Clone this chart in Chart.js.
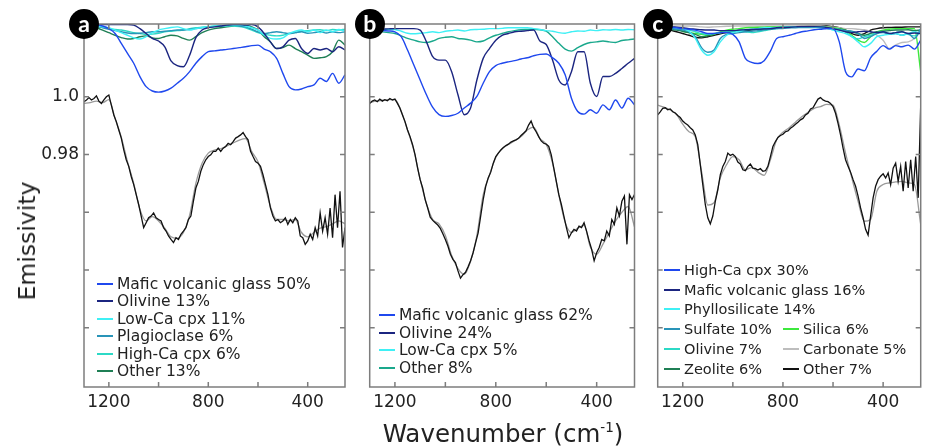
<!DOCTYPE html>
<html>
<head>
<meta charset="utf-8">
<script src="https://cdn.jsdelivr.net/npm/chart.js@4.4.1/dist/chart.umd.min.js"></script>
<style>
  body { margin: 0; background: #fff; }
  #wrap { position: relative; width: 932px; height: 448px; overflow: hidden; background: #fff; font-family: "DejaVu Sans", sans-serif; color: #222; }
  #wrap canvas { position: absolute; left: 0; top: 0; }
  .tag { position: absolute; width: 30px; height: 30px; border-radius: 50%; background: #000; color: #fff;
         font: bold 23px Lato, sans-serif; text-align: center; line-height: 28px; z-index: 5; }
  .legend { position: absolute; white-space: nowrap; z-index: 4; }
  .legend .row { position: absolute; left: 0; height: 18px; line-height: 18px; transform: translateY(-50%); }
  .legend .sw { position: absolute; top: 8px; height: 2px; }
  .ytitle { position: absolute; left: 27px; top: 241px; transform: translate(-50%, -50%) rotate(-90deg); font-size: 23.5px; }
  .xtitle { position: absolute; left: 503px; top: 433px; transform: translate(-50%, -50%); font-size: 24.5px; white-space: nowrap; }
  .xtitle sup { font-size: 13.5px; }
</style>
</head>
<body>
<div id="wrap">
  <canvas id="panelA" width="932" height="448"></canvas>
  <canvas id="panelB" width="932" height="448"></canvas>
  <canvas id="panelC" width="932" height="448"></canvas>
  <div class="ytitle">Emissivity</div>
  <div class="xtitle">Wavenumber (cm<sup>-1</sup>)</div>
</div>
<script>
// axis ticks
const xTickValues = [1200, 1000, 800, 600, 400];
const xTickLabels = ["1200", "", "800", "", "400"];
const yTickValues = [1.0, 0.98, 0.96, 0.94, 0.92];
const yTickLabels = ["1.0", "0.98", "", "", ""];

// wavenumbers: measured spectra every 10 cm-1, endmembers/models every 25 cm-1
const wnFine = Array.from({ length: 106 }, (_, i) => 1300 - 10 * i);
const wnCoarse = Array.from({ length: 43 }, (_, i) => 1300 - 25 * i);

// ---- panel a ----
const aMeasured = [
  0.9983, 0.9989, 0.9997, 0.9989, 0.9994, 1.0003, 0.9985, 0.9977, 0.9989, 1.0000,
  1.0006, 0.9971, 0.9937, 0.9914, 0.9885, 0.9857, 0.9816, 0.9782, 0.9759, 0.9724,
  0.9696, 0.9661, 0.9627, 0.9587, 0.9547, 0.9564, 0.9581, 0.9587, 0.9598, 0.9581,
  0.9575, 0.9570, 0.9547, 0.9535, 0.9518, 0.9506, 0.9495, 0.9512, 0.9506, 0.9524,
  0.9535, 0.9547, 0.9575, 0.9587, 0.9638, 0.9684, 0.9707, 0.9742, 0.9765, 0.9782,
  0.9793, 0.9799, 0.9811, 0.9811, 0.9822, 0.9811, 0.9822, 0.9828, 0.9839, 0.9834,
  0.9845, 0.9857, 0.9862, 0.9868, 0.9876, 0.9862, 0.9851, 0.9811, 0.9793, 0.9776,
  0.9770, 0.9759, 0.9730, 0.9696, 0.9661, 0.9615, 0.9587, 0.9570, 0.9575, 0.9564,
  0.9570, 0.9581, 0.9558, 0.9575, 0.9564, 0.9581, 0.9570, 0.9518, 0.9512, 0.9489,
  0.9501, 0.9524, 0.9506, 0.9547, 0.9518, 0.9598, 0.9535, 0.9581, 0.9524, 0.9615,
  0.9512, 0.9661, 0.9547, 0.9673, 0.9478, 0.9547
];
const aModel = [
  0.9977, 0.9980, 0.9985, 0.9980, 0.9990, 0.9925, 0.9860, 0.9775, 0.9700, 0.9610,
  0.9570, 0.9585, 0.9570, 0.9545, 0.9515, 0.9510, 0.9530, 0.9590, 0.9700, 0.9770,
  0.9805, 0.9815, 0.9820, 0.9830, 0.9840, 0.9850, 0.9855, 0.9810, 0.9775, 0.9700,
  0.9620, 0.9575, 0.9575, 0.9570, 0.9575, 0.9530, 0.9515, 0.9530, 0.9545, 0.9550,
  0.9560, 0.9570, 0.9560
];
const aGlass = [
  1.0250, 1.0250, 1.0249, 1.0245, 1.0236, 1.0219, 1.0185, 1.0150, 1.0116, 1.0070,
  1.0035, 1.0020, 1.0016, 1.0020, 1.0030, 1.0047, 1.0064, 1.0087, 1.0116, 1.0139,
  1.0156, 1.0159, 1.0162, 1.0164, 1.0167, 1.0170, 1.0173, 1.0177, 1.0179, 1.0165,
  1.0156, 1.0133, 1.0081, 1.0035, 1.0024, 1.0027, 1.0035, 1.0041, 1.0064, 1.0053,
  1.0081, 1.0047, 1.0076
];
const aOlivine = [
  1.0250, 1.0250, 1.0250, 1.0250, 1.0250, 1.0250, 1.0250, 1.0250, 1.0248, 1.0236,
  1.0219, 1.0202, 1.0193, 1.0173, 1.0124, 1.0108, 1.0104, 1.0144, 1.0205, 1.0231,
  1.0239, 1.0242, 1.0245, 1.0248, 1.0250, 1.0250, 1.0248, 1.0250, 1.0242, 1.0219,
  1.0190, 1.0167, 1.0173, 1.0196, 1.0202, 1.0167, 1.0150, 1.0167, 1.0162, 1.0167,
  1.0156, 1.0173, 1.0162
];
const aLowCa = [
  1.0250, 1.0248, 1.0245, 1.0242, 1.0239, 1.0231, 1.0222, 1.0213, 1.0204, 1.0200,
  1.0208, 1.0222, 1.0231, 1.0236, 1.0240, 1.0242, 1.0236, 1.0231, 1.0236, 1.0240,
  1.0242, 1.0244, 1.0245, 1.0248, 1.0248, 1.0248, 1.0245, 1.0239, 1.0231, 1.0213,
  1.0202, 1.0200, 1.0204, 1.0219, 1.0227, 1.0231, 1.0225, 1.0231, 1.0222, 1.0231,
  1.0225, 1.0233, 1.0227
];
const aPlag = [
  1.0250, 1.0248, 1.0243, 1.0239, 1.0234, 1.0229, 1.0225, 1.0221, 1.0219, 1.0220,
  1.0222, 1.0225, 1.0225, 1.0227, 1.0229, 1.0231, 1.0231, 1.0233, 1.0236, 1.0239,
  1.0241, 1.0243, 1.0245, 1.0248, 1.0248, 1.0245, 1.0242, 1.0234, 1.0225, 1.0219,
  1.0222, 1.0225, 1.0222, 1.0219, 1.0222, 1.0225, 1.0220, 1.0222, 1.0225, 1.0221,
  1.0225, 1.0222, 1.0225
];
const aHighCa = [
  1.0250, 1.0248, 1.0245, 1.0241, 1.0236, 1.0233, 1.0231, 1.0227, 1.0222, 1.0219,
  1.0216, 1.0217, 1.0220, 1.0225, 1.0227, 1.0229, 1.0231, 1.0236, 1.0239, 1.0241,
  1.0243, 1.0245, 1.0245, 1.0245, 1.0245, 1.0243, 1.0239, 1.0231, 1.0222, 1.0216,
  1.0213, 1.0211, 1.0213, 1.0219, 1.0222, 1.0227, 1.0229, 1.0231, 1.0232, 1.0229,
  1.0233, 1.0231, 1.0234
];
const aOther = [
  1.0250, 1.0245, 1.0239, 1.0231, 1.0222, 1.0213, 1.0205, 1.0200, 1.0202, 1.0208,
  1.0211, 1.0204, 1.0202, 1.0208, 1.0213, 1.0211, 1.0202, 1.0196, 1.0208, 1.0222,
  1.0231, 1.0236, 1.0239, 1.0242, 1.0245, 1.0248, 1.0248, 1.0242, 1.0231, 1.0208,
  1.0190, 1.0167, 1.0170, 1.0179, 1.0167, 1.0156, 1.0144, 1.0133, 1.0135, 1.0139,
  1.0156, 1.0196, 1.0179
];

// ---- panel b ----
const bMeasured = [
  0.9977, 0.9985, 0.9989, 0.9983, 0.9992, 0.9985, 0.9990, 0.9986, 0.9994, 0.9989,
  0.9992, 0.9977, 0.9960, 0.9937, 0.9914, 0.9885, 0.9862, 0.9834, 0.9799, 0.9753,
  0.9713, 0.9684, 0.9644, 0.9615, 0.9583, 0.9572, 0.9564, 0.9556, 0.9544, 0.9526,
  0.9506, 0.9483, 0.9455, 0.9437, 0.9426, 0.9397, 0.9372, 0.9384, 0.9392, 0.9411,
  0.9432, 0.9460, 0.9495, 0.9529, 0.9587, 0.9644, 0.9690, 0.9719, 0.9739, 0.9770,
  0.9793, 0.9805, 0.9816, 0.9824, 0.9831, 0.9836, 0.9843, 0.9847, 0.9851, 0.9856,
  0.9866, 0.9874, 0.9882, 0.9902, 0.9916, 0.9893, 0.9879, 0.9862, 0.9847, 0.9839,
  0.9836, 0.9828, 0.9799, 0.9753, 0.9707, 0.9661, 0.9627, 0.9587, 0.9547, 0.9512,
  0.9529, 0.9541, 0.9535, 0.9552, 0.9547, 0.9564, 0.9535, 0.9501, 0.9472, 0.9432,
  0.9460, 0.9478, 0.9506, 0.9501, 0.9535, 0.9518, 0.9575, 0.9558, 0.9615, 0.9587,
  0.9638, 0.9656, 0.9489, 0.9661, 0.9644, 0.9661
];
const bModel = [
  0.9980, 0.9985, 0.9988, 0.9990, 0.9990, 0.9950, 0.9885, 0.9815, 0.9715, 0.9630,
  0.9575, 0.9560, 0.9520, 0.9450, 0.9405, 0.9385, 0.9430, 0.9520, 0.9660, 0.9730,
  0.9790, 0.9820, 0.9835, 0.9848, 0.9862, 0.9885, 0.9895, 0.9855, 0.9835, 0.9770,
  0.9660, 0.9565, 0.9530, 0.9545, 0.9555, 0.9480, 0.9455, 0.9490, 0.9530, 0.9570,
  0.9600, 0.9620, 0.9550
];
const bGlass = [
  1.0231, 1.0231, 1.0229, 1.0228, 1.0225, 1.0208, 1.0162, 1.0110, 1.0058, 1.0007,
  0.9963, 0.9938, 0.9932, 0.9935, 0.9943, 0.9961, 0.9978, 1.0001, 1.0047, 1.0087,
  1.0108, 1.0116, 1.0121, 1.0125, 1.0131, 1.0135, 1.0142, 1.0147, 1.0148, 1.0135,
  1.0116, 1.0076, 0.9995, 0.9949, 0.9940, 0.9955, 0.9943, 0.9972, 0.9955, 0.9989,
  0.9961, 0.9995, 0.9972
];
const bOlivine = [
  1.0231, 1.0233, 1.0234, 1.0235, 1.0236, 1.0236, 1.0236, 1.0236, 1.0231, 1.0190,
  1.0139, 1.0127, 1.0127, 1.0087, 1.0007, 0.9938, 0.9961, 1.0058, 1.0133, 1.0167,
  1.0196, 1.0213, 1.0219, 1.0225, 1.0227, 1.0229, 1.0231, 1.0193, 1.0181, 1.0127,
  1.0058, 1.0041, 1.0087, 1.0156, 1.0156, 1.0047, 1.0001, 1.0070, 1.0070, 1.0081,
  1.0098, 1.0116, 1.0133
];
const bLowCa = [
  1.0231, 1.0232, 1.0233, 1.0234, 1.0233, 1.0227, 1.0220, 1.0218, 1.0220, 1.0222,
  1.0225, 1.0222, 1.0227, 1.0229, 1.0231, 1.0228, 1.0232, 1.0233, 1.0234, 1.0236,
  1.0236, 1.0237, 1.0239, 1.0239, 1.0239, 1.0239, 1.0236, 1.0233, 1.0229, 1.0227,
  1.0222, 1.0220, 1.0225, 1.0228, 1.0227, 1.0231, 1.0229, 1.0232, 1.0231, 1.0233,
  1.0231, 1.0233, 1.0232
];
const bOther = [
  1.0231, 1.0228, 1.0225, 1.0222, 1.0219, 1.0211, 1.0202, 1.0196, 1.0190, 1.0188,
  1.0193, 1.0202, 1.0206, 1.0208, 1.0202, 1.0200, 1.0196, 1.0190, 1.0193, 1.0204,
  1.0213, 1.0219, 1.0225, 1.0229, 1.0232, 1.0233, 1.0234, 1.0232, 1.0227, 1.0208,
  1.0185, 1.0165, 1.0158, 1.0170, 1.0181, 1.0188, 1.0190, 1.0193, 1.0190, 1.0188,
  1.0195, 1.0197, 1.0200
];

// ---- panel c ----
const cMeasured = [
  0.9937, 0.9948, 0.9960, 0.9962, 0.9955, 0.9958, 0.9948, 0.9944, 0.9935, 0.9928,
  0.9916, 0.9908, 0.9902, 0.9893, 0.9885, 0.9868, 0.9834, 0.9765, 0.9696, 0.9627,
  0.9581, 0.9560, 0.9587, 0.9638, 0.9678, 0.9730, 0.9759, 0.9776, 0.9805, 0.9797,
  0.9801, 0.9793, 0.9774, 0.9767, 0.9747, 0.9744, 0.9759, 0.9767, 0.9753, 0.9751,
  0.9746, 0.9751, 0.9742, 0.9744, 0.9759, 0.9793, 0.9828, 0.9845, 0.9859, 0.9866,
  0.9870, 0.9879, 0.9882, 0.9891, 0.9897, 0.9905, 0.9912, 0.9920, 0.9925, 0.9937,
  0.9943, 0.9958, 0.9962, 0.9977, 0.9992, 0.9997, 0.9989, 0.9985, 0.9983, 0.9977,
  0.9966, 0.9943, 0.9908, 0.9868, 0.9822, 0.9782, 0.9759, 0.9739, 0.9713, 0.9690,
  0.9656, 0.9615, 0.9581, 0.9541, 0.9521, 0.9587, 0.9650, 0.9690, 0.9713, 0.9725,
  0.9733, 0.9719, 0.9736, 0.9696, 0.9753, 0.9770, 0.9707, 0.9759, 0.9673, 0.9776,
  0.9684, 0.9782, 0.9673, 0.9793, 0.9650, 0.9971
];
const cModel = [
  0.9971, 0.9964, 0.9954, 0.9939, 0.9905, 0.9879, 0.9862, 0.9742, 0.9625, 0.9633,
  0.9719, 0.9765, 0.9793, 0.9782, 0.9747, 0.9755, 0.9739, 0.9728, 0.9782, 0.9851,
  0.9877, 0.9893, 0.9912, 0.9931, 0.9946, 0.9960, 0.9966, 0.9974, 0.9971, 0.9902,
  0.9805, 0.9719, 0.9638, 0.9569, 0.9575, 0.9673, 0.9696, 0.9702, 0.9705, 0.9707,
  0.9702, 0.9696, 0.9558
];
const cHighCa = [
  1.0242, 1.0241, 1.0240, 1.0239, 1.0236, 1.0234, 1.0231, 1.0225, 1.0219, 1.0219,
  1.0222, 1.0222, 1.0216, 1.0190, 1.0133, 1.0119, 1.0115, 1.0125, 1.0158, 1.0202,
  1.0208, 1.0213, 1.0219, 1.0225, 1.0228, 1.0232, 1.0234, 1.0236, 1.0236, 1.0190,
  1.0087, 1.0069, 1.0096, 1.0090, 1.0135, 1.0158, 1.0177, 1.0165, 1.0177, 1.0173,
  1.0179, 1.0165, 1.0196
];
const cGlass = [
  1.0245, 1.0244, 1.0243, 1.0241, 1.0239, 1.0236, 1.0234, 1.0232, 1.0231, 1.0231,
  1.0229, 1.0229, 1.0229, 1.0231, 1.0232, 1.0233, 1.0234, 1.0235, 1.0236, 1.0239,
  1.0240, 1.0241, 1.0242, 1.0243, 1.0243, 1.0243, 1.0242, 1.0240, 1.0236, 1.0231,
  1.0225, 1.0222, 1.0225, 1.0227, 1.0225, 1.0222, 1.0225, 1.0219, 1.0222, 1.0225,
  1.0219, 1.0221, 1.0219
];
const cPhyllo = [
  1.0245, 1.0243, 1.0241, 1.0239, 1.0236, 1.0227, 1.0202, 1.0162, 1.0144, 1.0156,
  1.0190, 1.0213, 1.0222, 1.0227, 1.0232, 1.0234, 1.0236, 1.0239, 1.0239, 1.0240,
  1.0241, 1.0242, 1.0242, 1.0243, 1.0243, 1.0242, 1.0241, 1.0239, 1.0231, 1.0225,
  1.0219, 1.0208, 1.0190, 1.0173, 1.0185, 1.0208, 1.0213, 1.0216, 1.0219, 1.0213,
  1.0219, 1.0225, 1.0219
];
const cSulfate = [
  1.0242, 1.0239, 1.0236, 1.0234, 1.0231, 1.0225, 1.0208, 1.0170, 1.0154, 1.0162,
  1.0202, 1.0216, 1.0219, 1.0222, 1.0225, 1.0227, 1.0229, 1.0232, 1.0234, 1.0236,
  1.0236, 1.0239, 1.0239, 1.0240, 1.0240, 1.0240, 1.0239, 1.0236, 1.0234, 1.0232,
  1.0229, 1.0227, 1.0219, 1.0202, 1.0208, 1.0219, 1.0222, 1.0216, 1.0219, 1.0213,
  1.0219, 1.0202, 1.0236
];
const cOlivine = [
  1.0243, 1.0241, 1.0239, 1.0236, 1.0234, 1.0231, 1.0225, 1.0219, 1.0216, 1.0219,
  1.0222, 1.0225, 1.0225, 1.0227, 1.0225, 1.0222, 1.0225, 1.0229, 1.0233, 1.0236,
  1.0239, 1.0240, 1.0241, 1.0241, 1.0241, 1.0241, 1.0240, 1.0239, 1.0236, 1.0233,
  1.0225, 1.0208, 1.0200, 1.0208, 1.0213, 1.0222, 1.0225, 1.0219, 1.0222, 1.0225,
  1.0216, 1.0211, 1.0225
];
const cZeolite = [
  1.0239, 1.0236, 1.0234, 1.0231, 1.0227, 1.0222, 1.0216, 1.0208, 1.0211, 1.0218,
  1.0222, 1.0225, 1.0227, 1.0229, 1.0232, 1.0233, 1.0234, 1.0235, 1.0236, 1.0237,
  1.0239, 1.0240, 1.0241, 1.0241, 1.0242, 1.0242, 1.0241, 1.0239, 1.0236, 1.0234,
  1.0231, 1.0225, 1.0219, 1.0213, 1.0219, 1.0225, 1.0227, 1.0229, 1.0231, 1.0231,
  1.0232, 1.0229, 1.0231
];
const cSilica = [
  1.0245, 1.0243, 1.0239, 1.0234, 1.0227, 1.0222, 1.0219, 1.0216, 1.0213, 1.0216,
  1.0225, 1.0231, 1.0234, 1.0236, 1.0239, 1.0240, 1.0241, 1.0241, 1.0242, 1.0242,
  1.0243, 1.0243, 1.0243, 1.0243, 1.0243, 1.0243, 1.0242, 1.0241, 1.0239, 1.0236,
  1.0231, 1.0213, 1.0196, 1.0188, 1.0208, 1.0225, 1.0231, 1.0234, 1.0236, 1.0236,
  1.0236, 1.0236, 1.0087
];
const cCarbonate = [
  1.0245, 1.0245, 1.0245, 1.0245, 1.0245, 1.0245, 1.0244, 1.0242, 1.0241, 1.0242,
  1.0243, 1.0244, 1.0245, 1.0245, 1.0245, 1.0245, 1.0245, 1.0245, 1.0245, 1.0245,
  1.0245, 1.0245, 1.0245, 1.0245, 1.0245, 1.0245, 1.0245, 1.0243, 1.0241, 1.0239,
  1.0236, 1.0236, 1.0234, 1.0232, 1.0225, 1.0213, 1.0196, 1.0167, 1.0179, 1.0188,
  1.0190, 1.0202, 1.0225
];
const cOther = [
  1.0242, 1.0236, 1.0231, 1.0225, 1.0219, 1.0213, 1.0206, 1.0204, 1.0208, 1.0213,
  1.0218, 1.0222, 1.0225, 1.0227, 1.0229, 1.0232, 1.0234, 1.0236, 1.0239, 1.0240,
  1.0241, 1.0242, 1.0243, 1.0244, 1.0245, 1.0245, 1.0245, 1.0245, 1.0243, 1.0239,
  1.0231, 1.0219, 1.0213, 1.0219, 1.0231, 1.0236, 1.0239, 1.0240, 1.0241, 1.0241,
  1.0242, 1.0242, 1.0242
];

// colours (by rank in each legend)
const BLUE = "#1f48ee", NAVY = "#1b2580", CYAN = "#3ff0f5", STEEL = "#2994b8",
      TURQ = "#2cd9c6", DKGREEN = "#1f7f55", TEALGREEN = "#1aa88c", LIME = "#3de83d",
      LTGRAY = "#bdbdbd", BLACK = "#111111";

function endmember(label, values, color, inLegend = true) {
  return { label, wn: wnCoarse, values, color, width: 1.4, smooth: true, inLegend };
}
function spectra(measured, model) {
  return [
    { label: "measured", wn: wnFine, values: measured, color: "#111111", width: 1.3, smooth: false, inLegend: false },
    { label: "model", wn: wnCoarse, values: model, color: "#9a9a9a", width: 1.3, smooth: true, inLegend: false }
  ];
}

const panels = [
  {
    canvas: "panelA", tag: "a", box: { left: 84, right: 345, top: 24, bottom: 387 }, showY: true,
    series: spectra(aMeasured, aModel).concat([
      endmember("Mafic volcanic glass 50%", aGlass, BLUE),
      endmember("Olivine 13%", aOlivine, NAVY),
      endmember("Low-Ca cpx 11%", aLowCa, CYAN),
      endmember("Plagioclase 6%", aPlag, STEEL),
      endmember("High-Ca cpx 6%", aHighCa, TURQ),
      endmember("Other 13%", aOther, DKGREEN)
    ]),
    legend: { x: 97, y: 284, gap: 17.4, size: 15.5, cols: [6] }
  },
  {
    canvas: "panelB", tag: "b", box: { left: 369.7, right: 634.5, top: 24, bottom: 387 }, showY: false,
    series: spectra(bMeasured, bModel).concat([
      endmember("Mafic volcanic glass 62%", bGlass, BLUE),
      endmember("Olivine 24%", bOlivine, NAVY),
      endmember("Low-Ca cpx 5%", bLowCa, CYAN),
      endmember("Other 8%", bOther, TEALGREEN)
    ]),
    legend: { x: 379, y: 315, gap: 17.5, size: 15.5, cols: [4] }
  },
  {
    canvas: "panelC", tag: "c", box: { left: 657.7, right: 920.7, top: 24, bottom: 387 }, showY: false,
    series: spectra(cMeasured, cModel).concat([
      endmember("High-Ca cpx 30%", cHighCa, BLUE),
      endmember("Mafic volcanic glass 16%", cGlass, NAVY),
      endmember("Phyllosilicate 14%", cPhyllo, CYAN),
      endmember("Sulfate 10%", cSulfate, STEEL),
      endmember("Olivine 7%", cOlivine, TURQ),
      endmember("Zeolite 6%", cZeolite, DKGREEN),
      endmember("Silica 6%", cSilica, LIME),
      endmember("Carbonate 5%", cCarbonate, LTGRAY),
      endmember("Other 7%", cOther, BLACK)
    ]),
    legend: { x: 664, y: 270, gap: 19.7, size: 14.5, cols: [6, 3], col2x: 783, col2row: 3 }
  }
];

// frame + inward tick marks, drawn on the chart's own scales
const framePlugin = {
  id: "frame",
  afterDatasetsDraw(chart) {
    const { ctx, chartArea: a, scales } = chart;
    ctx.save();
    ctx.strokeStyle = "#7d7d7d";
    ctx.lineWidth = 1.5;
    ctx.strokeRect(a.left, a.top, a.right - a.left, a.bottom - a.top);
    ctx.beginPath();
    xTickValues.forEach(v => {
      const px = scales.x.getPixelForValue(v);
      ctx.moveTo(px, a.bottom); ctx.lineTo(px, a.bottom - 5);
      ctx.moveTo(px, a.top); ctx.lineTo(px, a.top + 5);
    });
    yTickValues.forEach(v => {
      const py = scales.y.getPixelForValue(v);
      ctx.moveTo(a.left, py); ctx.lineTo(a.left + 5, py);
      ctx.moveTo(a.right, py); ctx.lineTo(a.right - 5, py);
    });
    ctx.stroke();
    ctx.restore();
  }
};

const X_AXIS_H = 30, Y_AXIS_W = 70;

function tickLabel(values, labels, v) {
  const i = values.findIndex(t => Math.abs(t - v) < 1e-6);
  return i < 0 ? "" : labels[i];
}

function makePanel(p) {
  const b = p.box;
  return new Chart(document.getElementById(p.canvas), {
    type: "line",
    data: {
      datasets: p.series.map(s => ({
        label: s.label,
        data: s.values.map((v, i) => ({ x: s.wn[i], y: v })),
        borderColor: s.color,
        borderWidth: s.width,
        pointRadius: 0,
        fill: false,
        tension: 0,
        cubicInterpolationMode: s.smooth ? "monotone" : "default"
      }))
    },
    options: {
      responsive: false,
      animation: false,
      events: [],
      devicePixelRatio: 1,
      layout: {
        padding: {
          left: b.left - (p.showY ? Y_AXIS_W : 0),
          right: 932 - b.right,
          top: b.top,
          bottom: 448 - b.bottom - X_AXIS_H
        }
      },
      plugins: { legend: { display: false }, tooltip: { enabled: false } },
      scales: {
        x: {
          type: "linear", reverse: true, min: 250, max: 1300,
          afterBuildTicks: sc => { sc.ticks = xTickValues.map(v => ({ value: v })); },
          afterFit: sc => { sc.height = X_AXIS_H; },
          grid: { display: false, drawTicks: false },
          border: { display: false },
          ticks: {
            autoSkip: false, maxRotation: 0, padding: 5, color: "#222",
            font: { family: "DejaVu Sans", size: 17 },
            callback: v => tickLabel(xTickValues, xTickLabels, v)
          }
        },
        y: {
          type: "linear", min: 0.8995, max: 1.0252, display: p.showY,
          afterBuildTicks: sc => { sc.ticks = yTickValues.map(v => ({ value: v })); },
          afterFit: sc => { if (p.showY) sc.width = Y_AXIS_W; },
          grid: { display: false, drawTicks: false },
          border: { display: false },
          ticks: {
            autoSkip: false, padding: 5, color: "#222",
            font: { family: "DejaVu Sans", size: 17 },
            callback: v => tickLabel(yTickValues, yTickLabels, v)
          }
        }
      }
    },
    plugins: [framePlugin]
  });
}

function addTag(p) {
  const el = document.createElement("div");
  el.className = "tag";
  el.textContent = p.tag;
  el.style.left = (p.box.left - 15) + "px";
  el.style.top = (p.box.top - 15) + "px";
  document.getElementById("wrap").appendChild(el);
}

function addLegend(p) {
  const L = p.legend;
  const box = document.createElement("div");
  box.className = "legend";
  box.style.left = "0px";
  box.style.top = "0px";
  box.style.fontSize = L.size + "px";
  const items = p.series.filter(s => s.inLegend);
  items.forEach((s, i) => {
    let x = L.x, row = i;
    if (L.col2x && i >= L.cols[0]) { x = L.col2x; row = L.col2row + (i - L.cols[0]); }
    const r = document.createElement("div");
    r.className = "row";
    r.style.left = x + "px";
    r.style.top = (L.y + row * L.gap) + "px";
    r.innerHTML = '<span class="sw" style="left:0;width:16px;background:' + s.color + '"></span>' +
      '<span style="padding-left:20px">' + s.label + '</span>';
    box.appendChild(r);
  });
  document.getElementById("wrap").appendChild(box);
}

panels.forEach(p => { makePanel(p); addTag(p); addLegend(p); });
</script>
</body>
</html>
